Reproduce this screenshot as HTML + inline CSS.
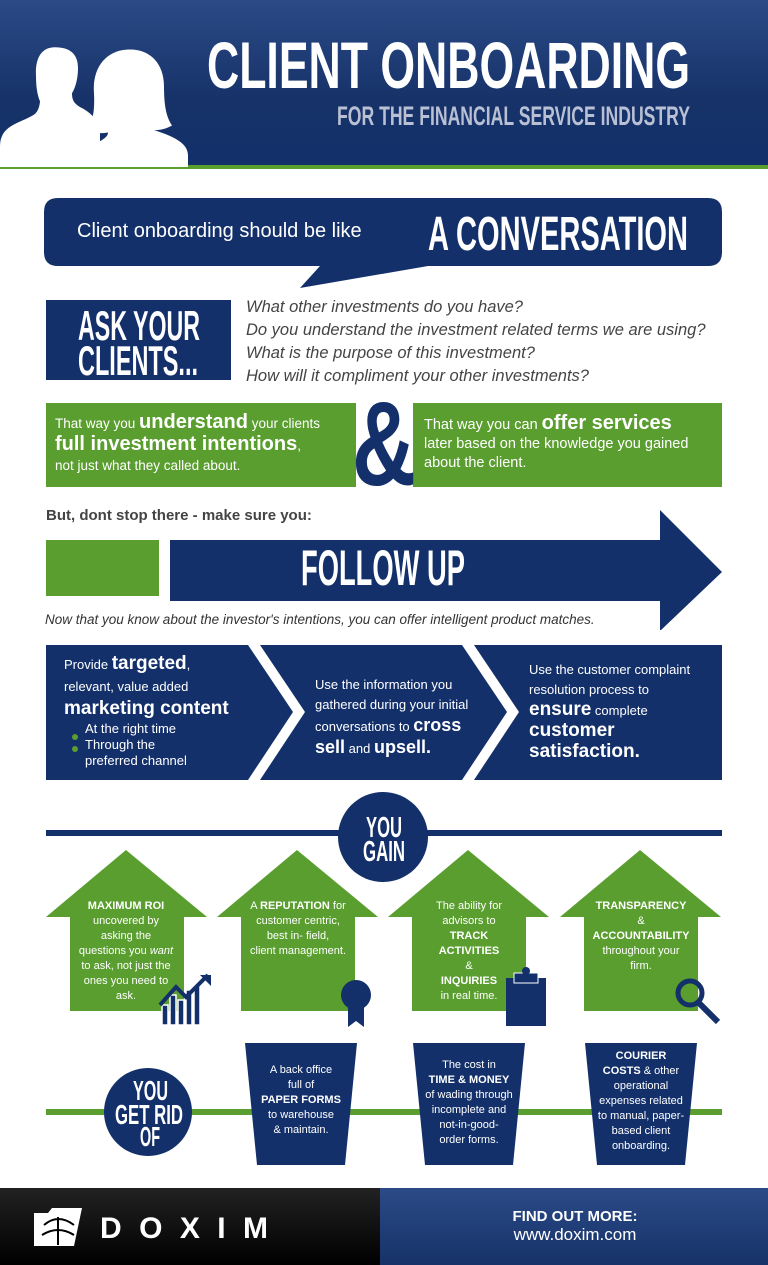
<!DOCTYPE html>
<html><head><meta charset="utf-8"><style>
*{margin:0;padding:0;box-sizing:border-box}
body{width:768px;height:1265px;position:relative;background:#fff;font-family:"Liberation Sans",sans-serif;overflow:hidden}
.a{position:absolute}
.w{color:#fff}
.ctr{text-align:center}
svg text{font-family:"Liberation Sans",sans-serif;font-weight:bold}
</style></head><body>
<div class="a" style="left:0;top:0;width:768px;height:165px;background:linear-gradient(#2b4a86,#163269 60%,#13306a)"></div>
<div class="a" style="left:0;top:165px;width:768px;height:4px;background:#5a9e2f"></div>
<svg class="a" style="left:0;top:38px" width="200" height="129" viewBox="0 0 200 112" preserveAspectRatio="none">
<path fill="#fff" d="M55 8c-14 0-20 10-19 25 0 8 1 16 4 22-1 8-4 11-9 13-12 6-31 8-31 26v18h100v-30c0-10-10-18-20-22-5-3-8-5-8-12 4-6 6-14 6-22 0-12-8-18-23-18z"/>
<path fill="#fff" d="M130 10c-24 0-38 16-36 38 1 18-2 26-8 32 8 3 16 3 22 2 0 6-13 9-28 17-8 4-10 8-10 13h118v-10c0-10-12-16-34-22 6 0 12-1 18-4-6-8-8-18-8-34 0-20-14-32-34-32z"/>
</svg>
<svg class="a" style="left:0;top:0" width="768" height="300">
<text x="207" y="88" font-size="66" fill="#fff" textLength="483" lengthAdjust="spacingAndGlyphs">CLIENT ONBOARDING</text>
<text x="337" y="125" font-size="27" fill="#b9c0d4" textLength="353" lengthAdjust="spacingAndGlyphs">FOR THE FINANCIAL SERVICE INDUSTRY</text>
</svg>

<svg class="a" style="left:0;top:190px" width="768" height="110">
<path fill="#13306a" d="M58 8h650q14 0 14 14v40q0 14-14 14h-280l-128 22 20-22h-262q-14 0-14-14v-40q0-14 14-14z"/>
<text x="428" y="60" font-size="48" fill="#fff" textLength="260" lengthAdjust="spacingAndGlyphs">A CONVERSATION</text>
</svg>
<div class="a w" style="left:77px;top:220px;font-size:20px">Client onboarding should be like</div>

<svg class="a" style="left:46px;top:300px" width="185" height="80">
<rect width="185" height="80" fill="#13306a"/>
<text x="32" y="40" font-size="42" fill="#fff" textLength="122" lengthAdjust="spacingAndGlyphs">ASK YOUR</text>
<text x="32" y="75" font-size="42" fill="#fff" textLength="120" lengthAdjust="spacingAndGlyphs">CLIENTS...</text>
</svg>
<div class="a" style="left:246px;top:296px;font-size:16.5px;line-height:23px;font-style:italic;color:#444;white-space:nowrap">What other investments do you have?<br>Do you understand the investment related terms we are using?<br>What is the purpose of this investment?<br>How will it compliment your other investments?</div>

<div class="a" style="left:46px;top:403px;width:310px;height:84px;background:#5a9e2f"></div>
<div class="a" style="left:413px;top:403px;width:309px;height:84px;background:#5a9e2f"></div>
<div class="a w" style="left:55px;top:412px;font-size:13.5px;line-height:20px;white-space:nowrap">That way you <b style="font-size:20px">understand</b> your clients<br><b style="font-size:20px">full investment intentions</b>,<br>not just what they called about.</div>
<div class="a w" style="left:424px;top:414px;font-size:14.5px;line-height:19px;white-space:nowrap">That way you can <b style="font-size:20px">offer services</b><br>later based on the knowledge you gained<br>about the client.</div>
<svg class="a" style="left:350px;top:385px" width="70" height="110"><text x="2" y="100" font-size="120" fill="#13306a" textLength="64" lengthAdjust="spacingAndGlyphs">&amp;</text></svg>

<div class="a" style="left:46px;top:507px;font-size:15px;font-weight:bold;color:#444">But, dont stop there - make sure you:</div>
<div class="a" style="left:46px;top:540px;width:113px;height:56px;background:#5a9e2f"></div>
<svg class="a" style="left:160px;top:505px" width="570" height="125"><path fill="#13306a" d="M10 35h490v-30l62 62-62 59v-30h-490z"/>
<text x="141" y="80" font-size="50" fill="#fff" textLength="164" lengthAdjust="spacingAndGlyphs">FOLLOW UP</text></svg>
<div class="a" style="left:45px;top:612px;font-size:13.5px;font-style:italic;color:#333;white-space:nowrap">Now that you know about the investor's intentions, you can offer intelligent product matches.</div>

<svg class="a" style="left:0;top:640px" width="768" height="145">
<path fill="#13306a" d="M46 5h202l45 67-45 68h-202z"/>
<path fill="#13306a" d="M260 5h202l45 67-45 68h-202l45-68z"/>
<path fill="#13306a" d="M474 5h248v135h-248l45-68z"/>
</svg>
<div class="a w" style="left:64px;top:653px;font-size:13px;line-height:22px;white-space:nowrap">Provide <b style="font-size:19px">targeted</b>,<br>relevant, value added<br><b style="font-size:19px">marketing content</b></div>
<div class="a w" style="left:85px;top:721px;font-size:13px;line-height:16px">At the right time<br>Through the<br>preferred channel</div>
<div class="a" style="left:72px;top:734px;width:6px;height:6px;border-radius:3px;background:#5a9e2f"></div>
<div class="a" style="left:72px;top:746px;width:6px;height:6px;border-radius:3px;background:#5a9e2f"></div>
<div class="a w" style="left:315px;top:675px;font-size:13px;line-height:20px;white-space:nowrap">Use the information you<br>gathered during your initial<br>conversations to <b style="font-size:18px">cross</b><br><b style="font-size:18px">sell</b> and <b style="font-size:18px">upsell.</b></div>
<div class="a w" style="left:529px;top:660px;font-size:13px;line-height:20px;white-space:nowrap">Use the customer complaint<br>resolution process to<br><b style="font-size:19px">ensure</b> complete<br><b style="font-size:19px">customer<br>satisfaction.</b></div>

<div class="a" style="left:46px;top:830px;width:676px;height:6px;background:#13306a"></div>
<svg class="a" style="left:338px;top:792px" width="90" height="90">
<circle cx="45" cy="45" r="45" fill="#13306a"/>
<text x="28" y="45" font-size="29" fill="#fff" textLength="36" lengthAdjust="spacingAndGlyphs">YOU</text>
<text x="25" y="69" font-size="29" fill="#fff" textLength="42" lengthAdjust="spacingAndGlyphs">GAIN</text>
</svg>

<svg class="a" style="left:0;top:845px" width="768" height="190">
<g fill="#5a9e2f">
<path d="M126 5l81 67h-23v94h-114v-94h-24z"/>
<path d="M297 5l81 67h-23v94h-114v-94h-24z"/>
<path d="M468 5l81 67h-23v94h-114v-94h-24z"/>
<path d="M640 5l81 67h-23v94h-114v-94h-24z"/>
</g>
<g fill="#13306a" stroke="#fff" stroke-width="1.5">
<rect x="162" y="160" width="6" height="20"/><rect x="170" y="150" width="6" height="30"/><rect x="178" y="155" width="6" height="25"/><rect x="186" y="145" width="6" height="35"/><rect x="194" y="140" width="6" height="40"/>
</g>
<path d="M160 160l16-18 10 10 22-22" stroke="#13306a" stroke-width="4" fill="none"/><path d="M200 130h11v11z" fill="#13306a"/>
<circle cx="356" cy="150" r="15" fill="#13306a"/><path d="M348 160v22l8-6 8 6v-22z" fill="#13306a"/>
<rect x="506" y="133" width="40" height="48" fill="#13306a"/><rect x="514" y="128" width="24" height="10" fill="#13306a" stroke="#fff"/><circle cx="526" cy="126" r="4" fill="#13306a"/>
<circle cx="690" cy="148" r="12" fill="none" stroke="#13306a" stroke-width="5"/><path d="M698 157l20 20" stroke="#13306a" stroke-width="6"/>
</svg>
<div class="a w ctr" style="left:66px;top:899px;width:120px;font-size:11px;line-height:15px">
<b>MAXIMUM ROI</b><br>uncovered by<br>asking the<br>questions you <i>want</i><br>to ask, not just the<br>ones you need to<br>ask.</div>
<div class="a w ctr" style="left:237px;top:899px;width:122px;font-size:11px;line-height:15px">A <b>REPUTATION</b> for<br>customer centric,<br>best in- field,<br>client management.</div>
<div class="a w ctr" style="left:408px;top:899px;width:122px;font-size:11px;line-height:15px">The ability for<br>advisors to<br><b>TRACK<br>ACTIVITIES</b><br>&amp;<br><b>INQUIRIES</b><br>in real time.</div>
<div class="a w ctr" style="left:580px;top:899px;width:122px;font-size:11px;line-height:15px"><b>TRANSPARENCY</b><br>&amp;<br><b>ACCOUNTABILITY</b><br>throughout your<br>firm.</div>

<div class="a" style="left:46px;top:1109px;width:676px;height:6px;background:#5a9e2f"></div>
<svg class="a" style="left:104px;top:1068px" width="88" height="88">
<circle cx="44" cy="44" r="44" fill="#13306a"/>
<text x="29" y="32" font-size="28" fill="#fff" textLength="35" lengthAdjust="spacingAndGlyphs">YOU</text>
<text x="11" y="56" font-size="28" fill="#fff" textLength="68" lengthAdjust="spacingAndGlyphs">GET RID</text>
<text x="36" y="78" font-size="28" fill="#fff" textLength="20" lengthAdjust="spacingAndGlyphs">OF</text>
</svg>
<svg class="a" style="left:0;top:1040px" width="768" height="130">
<g fill="#13306a">
<path d="M245 3h112l-12 122h-88z"/>
<path d="M413 3h112l-12 122h-88z"/>
<path d="M585 3h112l-12 122h-88z"/>
</g></svg>
<div class="a w ctr" style="left:245px;top:1063px;width:112px;font-size:11px;line-height:15px">A back office<br>full of<br><b>PAPER FORMS</b><br>to warehouse<br>&amp; maintain.</div>
<div class="a w ctr" style="left:413px;top:1058px;width:112px;font-size:11px;line-height:15px">The cost in<br><b>TIME &amp; MONEY</b><br>of wading through<br>incomplete and<br>not-in-good-<br>order forms.</div>
<div class="a w ctr" style="left:585px;top:1049px;width:112px;font-size:11px;line-height:15px"><b>COURIER<br>COSTS</b> &amp; other<br>operational<br>expenses related<br>to manual, paper-<br>based client<br>onboarding.</div>

<div class="a" style="left:0;top:1188px;width:380px;height:77px;background:linear-gradient(#222,#000)"></div>
<div class="a" style="left:380px;top:1188px;width:388px;height:77px;background:linear-gradient(#2b4a86,#163269)"></div>
<svg class="a" style="left:30px;top:1205px" width="60" height="45"><path d="M4 8h14l4-5h30l-8 38h-40z" fill="#fff"/><path d="M14 20q14-12 30 0M12 30q16-10 32 0M28 12v28" stroke="#000" stroke-width="2" fill="none"/></svg>
<svg class="a" style="left:95px;top:1205px" width="190" height="40"><text x="5" y="33" font-size="30" fill="#fff" textLength="168" lengthAdjust="spacing">DOXIM</text></svg>
<div class="a w ctr" style="left:470px;top:1208px;width:210px;font-size:15px;font-weight:bold;line-height:17px">FIND OUT MORE:</div>
<div class="a w ctr" style="left:470px;top:1225px;width:210px;font-size:17px">www.doxim.com</div>
</body></html>
